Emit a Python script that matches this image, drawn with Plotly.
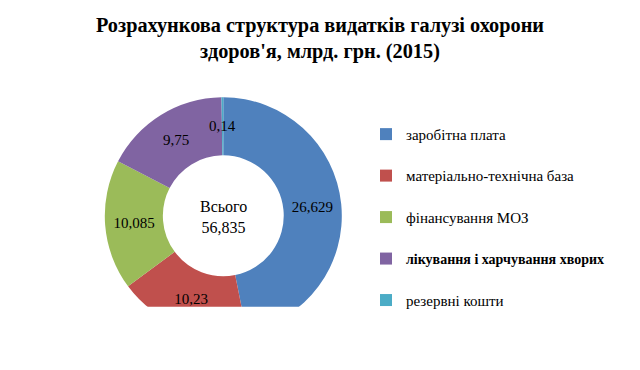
import math
import plotly.graph_objects as go

# Data
categories = ["заробітна плата", "матеріально-технічна база", "фінансування МОЗ",
              "лікування і харчування хворих", "резервні кошти"]
values = [26.629, 10.23, 10.085, 9.75, 0.14]
value_labels = ["26,629", "10,23", "10,085", "9,75", "0,14"]
total_label = "Всього<br>56,835"
bold_items = [False, False, False, True, False]
colors = ["#4F81BD", "#C0504D", "#9BBB59", "#8064A2", "#4BACC6"]

W, H = 640, 370
SERIF = "Liberation Serif, Times New Roman, serif"

legend_names = []
for name, b in zip(categories, bold_items):
    if b:
        legend_names.append(f"<span style='font-size:14px'><b>{name}</b></span><br> ")
    else:
        legend_names.append(f"<span style='font-size:15px'>{name}</span><br> ")

# donut geometry (pixels)
cx, cy, R = 223.3, 215.8, 118.5
HOLE = 0.51

# slices too thin for an inside label get their label placed at the ring middle
total = sum(values)
inside_text = []
extra_annotations = []
cum = 0.0
for v, lab in zip(values, value_labels):
    frac_mid = (cum + v / 2) / total
    cum += v
    if v / total < 0.02:
        inside_text.append("")
        th = 2 * math.pi * frac_mid
        rm = R * (1 + HOLE) / 2
        px = cx + rm * math.sin(th)
        py = cy - rm * math.cos(th)
        extra_annotations.append(dict(
            text=lab, x=px / W, y=1 - py / H, xref="paper", yref="paper",
            showarrow=False, font=dict(family=SERIF, size=15, color="#000000"),
        ))
    else:
        inside_text.append(lab)

fig = go.Figure(go.Pie(
    labels=legend_names,
    values=values,
    text=inside_text,
    textinfo="text",
    textposition="inside",
    insidetextorientation="horizontal",
    textfont=dict(family=SERIF, size=15, color="#000000"),
    sort=False,
    direction="clockwise",
    rotation=0,
    hole=HOLE,
    marker=dict(colors=colors, line=dict(width=0)),
    domain=dict(x=[(cx - R) / W, (cx + R) / W],
                y=[(H - cy - R) / H, (H - cy + R) / H]),
    hoverinfo="value",
))

fig.update_layout(
    width=W, height=H,
    margin=dict(l=0, r=0, t=0, b=0, autoexpand=False),
    paper_bgcolor="white",
    plot_bgcolor="white",
    uniformtext=dict(minsize=15, mode="show"),
    title=dict(
        text="<b>Розрахункова структура видатків галузі охорони<br>здоров'я, млрд. грн. (2015)</b>",
        x=0.5, xanchor="center",
        y=1 - 32 / H, yanchor="top",
        font=dict(family=SERIF, size=20.3, color="#000000"),
    ),
    showlegend=True,
    legend=dict(
        x=366 / W, xanchor="left",
        y=1 - 118 / H, yanchor="top",
        font=dict(family=SERIF, size=14.8, color="#000000"),
        valign="top",
        bgcolor="rgba(0,0,0,0)",
        traceorder="normal",
    ),
    annotations=[dict(
        text=total_label,
        x=cx / W, y=1 - (cy + 1) / H, xref="paper", yref="paper",
        showarrow=False,
        font=dict(family=SERIF, size=16, color="#000000"),
        align="center",
    )] + extra_annotations,
    shapes=[dict(
        type="rect", xref="paper", yref="paper",
        x0=0, x1=0.58, y0=0, y1=(H - 306.7) / H,
        fillcolor="white", line=dict(width=0), layer="above",
    )],
)

fig.write_html("out.html", config={"displayModeBar": False},
               post_script="document.body.style.margin='0';")
